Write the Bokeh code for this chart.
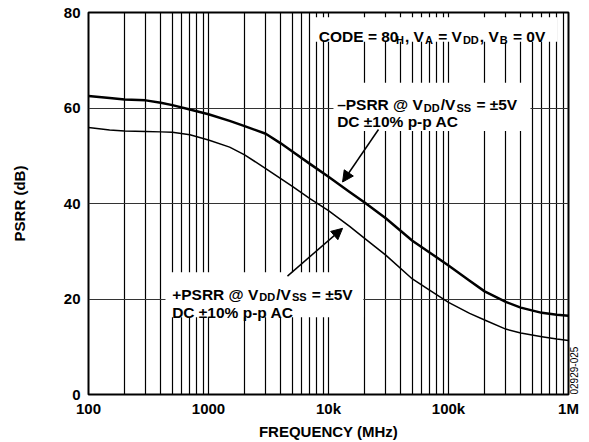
import math
from bokeh.plotting import figure
from bokeh.models import FixedTicker, Label, BoxAnnotation, Arrow, NormalHead, LinearAxis
from bokeh.embed import file_html
from bokeh.resources import INLINE

# ---------------- data ----------------
freq = [100, 150, 200, 300, 400, 500, 700, 1000, 1500, 2000, 3000, 4000, 5000, 7000,
        10000, 15000, 20000, 30000, 50000, 70000, 100000, 150000, 200000, 300000,
        400000, 600000, 800000, 1000000]
psrr_neg = [62.5, 62.1, 61.8, 61.6, 61.1, 60.6, 59.7, 58.7, 57.3, 56.2, 54.6, 52.6, 50.9, 48.3,
            45.6, 42.4, 40.2, 36.9, 32.2, 29.7, 27.0, 23.8, 21.6, 19.4,
            18.2, 17.1, 16.7, 16.5]
psrr_pos = [55.9, 55.4, 55.2, 55.1, 55.0, 54.9, 54.4, 53.3, 51.8, 50.2, 47.3, 45.2, 43.6, 41.0,
            38.5, 35.2, 32.7, 29.2, 24.2, 21.8, 19.3, 17.0, 15.6, 13.7,
            12.9, 12.1, 11.6, 11.3]

x_ticks = [100, 1000, 10000, 100000, 1000000]
x_tick_labels = ["100", "1000", "10k", "100k", "1M"]
y_ticks = [0, 20, 40, 60, 80]

FONT = "Liberation Sans"

# Arial/Liberation Sans Bold advance widths (per 1000 em)
W = {" ": 278, "=": 584, "±": 584, "@": 975, "/": 278, ",": 278, "-": 333, "–": 556,
     "+": 584, "%": 889, "(": 333, ")": 333,
     "0": 556, "1": 556, "2": 556, "3": 556, "4": 556, "5": 556, "6": 556, "7": 556, "8": 556, "9": 556,
     "A": 722, "B": 722, "C": 722, "D": 722, "E": 667, "H": 722, "P": 667, "R": 722, "S": 667, "V": 667,
     "p": 611}


def text_width(s, size):
    return sum(W.get(ch, 556) for ch in s) * size / 1000.0


def rich(p, x, y, parts, main=15.5, sub=11):
    off = 0.0
    for txt, is_sub in parts:
        size = sub if is_sub else main
        stripped = txt.lstrip(" ")
        off += (len(txt) - len(stripped)) * W[" "] * size / 1000.0
        p.add_layout(Label(x=x, y=y, x_offset=off, y_offset=-3 if is_sub else 0,
                           text=stripped, text_font=FONT, text_font_size=f"{size}px",
                           text_font_style="bold", text_color="black",
                           text_baseline="alphabetic", text_align="left"))
        off += text_width(stripped, size) + 1.0


p = figure(width=589, height=442, x_axis_type="log", x_range=(100, 1e6), y_range=(0, 80),
           output_backend="svg", toolbar_location=None,
           min_border_left=88, min_border_right=21, min_border_top=12, min_border_bottom=47)
p.background_fill_color = "white"
p.border_fill_color = "white"
p.outline_line_color = "black"
p.outline_line_width = 2

for ax in (p.xaxis[0], p.yaxis[0]):
    ax.axis_line_color = None
    ax.major_tick_line_color = None
    ax.minor_tick_line_color = None
    ax.major_tick_out = 0
    ax.major_tick_in = 0
    ax.minor_tick_out = 0
    ax.minor_tick_in = 0
    ax.major_label_text_font = FONT
    ax.major_label_text_font_size = "15px"
    ax.major_label_text_font_style = "bold"
    ax.major_label_text_color = "black"
    ax.axis_label_text_font = FONT
    ax.axis_label_text_font_size = "15px"
    ax.axis_label_text_font_style = "bold"
    ax.axis_label_text_color = "black"

p.xaxis.ticker = FixedTicker(ticks=x_ticks)
p.xaxis.major_label_overrides = {t: l for t, l in zip(x_ticks, x_tick_labels)}
p.xaxis.axis_label = "FREQUENCY (MHz)"
p.xaxis.major_label_standoff = 5
p.xaxis.axis_label_standoff = 3

p.yaxis.ticker = FixedTicker(ticks=y_ticks)
p.yaxis.axis_label = "PSRR (dB)"
p.yaxis.major_label_standoff = 8
p.yaxis.axis_label_standoff = 33

# right-hand side: small figure id text, as an axis label at the bottom
rax = LinearAxis(axis_label="02929-025", ticker=FixedTicker(ticks=[]),
                 axis_line_color=None, major_tick_line_color=None, minor_tick_line_color=None,
                 major_tick_out=0, major_tick_in=0, minor_tick_out=0, minor_tick_in=0,
                 major_label_text_font_size="0px", major_label_standoff=0,
                 axis_label_text_font=FONT, axis_label_text_font_size="10px",
                 axis_label_text_font_style="normal", axis_label_text_color="black",
                 axis_label_standoff=5)
try:
    rax.axis_label_orientation = math.pi / 2
except Exception:
    pass
try:
    rax.axis_label_align = "start"
except Exception:
    rax.bounds = (0, 10.3)
p.add_layout(rax, "right")

grid_x = [k * 10 ** d for d in range(2, 6) for k in range(1, 10)] + [1000000]
p.xgrid.ticker = FixedTicker(ticks=grid_x)
p.xgrid.grid_line_color = "black"
p.xgrid.grid_line_width = 1.2
p.ygrid.ticker = FixedTicker(ticks=[20, 40, 60])
p.ygrid.grid_line_color = "#333333"
p.ygrid.grid_line_width = 1

# white boxes behind annotation texts (interrupt the grid)
for l, r, b, t in [(7500, 8.1e5, 73.9, 79.0), (11000, 4.82e5, 55.2, 65.3), (438, 19500, 16.2, 25.6)]:
    p.add_layout(BoxAnnotation(left=l, right=r, bottom=b, top=t, fill_color="white",
                               fill_alpha=1, line_color=None, level="underlay"))

p.line(freq, psrr_neg, line_color="black", line_width=2.5, line_join="round")
p.line(freq, psrr_pos, line_color="black", line_width=1.5, line_join="round")

# annotations
rich(p, 8300, 74.9, [("CODE = 80", False), ("H", True), (", V", False), ("A", True),
                     (" = V", False), ("DD", True), (", V", False), ("B", True), (" = 0V", False)])
rich(p, 11800, 60.7, [("–PSRR @ V", False), ("DD", True), ("/V", False), ("SS", True), (" = ±5V", False)])
rich(p, 11800, 57.2, [("DC ±10% p-p AC", False)])
rich(p, 498, 21.0, [("+PSRR @ V", False), ("DD", True), ("/V", False), ("SS", True), (" = ±5V", False)])
rich(p, 498, 17.2, [("DC ±10% p-p AC", False)])

p.add_layout(Arrow(end=NormalHead(size=11, fill_color="black", line_color="black"),
                   x_start=26100, y_start=55.5, x_end=13100, y_end=44.5,
                   line_color="black", line_width=1.5))
p.add_layout(Arrow(end=NormalHead(size=11, fill_color="black", line_color="black"),
                   x_start=4550, y_start=24.8, x_end=13100, y_end=34.8,
                   line_color="black", line_width=1.5))

open("out.html", "w").write(file_html(p, INLINE))
